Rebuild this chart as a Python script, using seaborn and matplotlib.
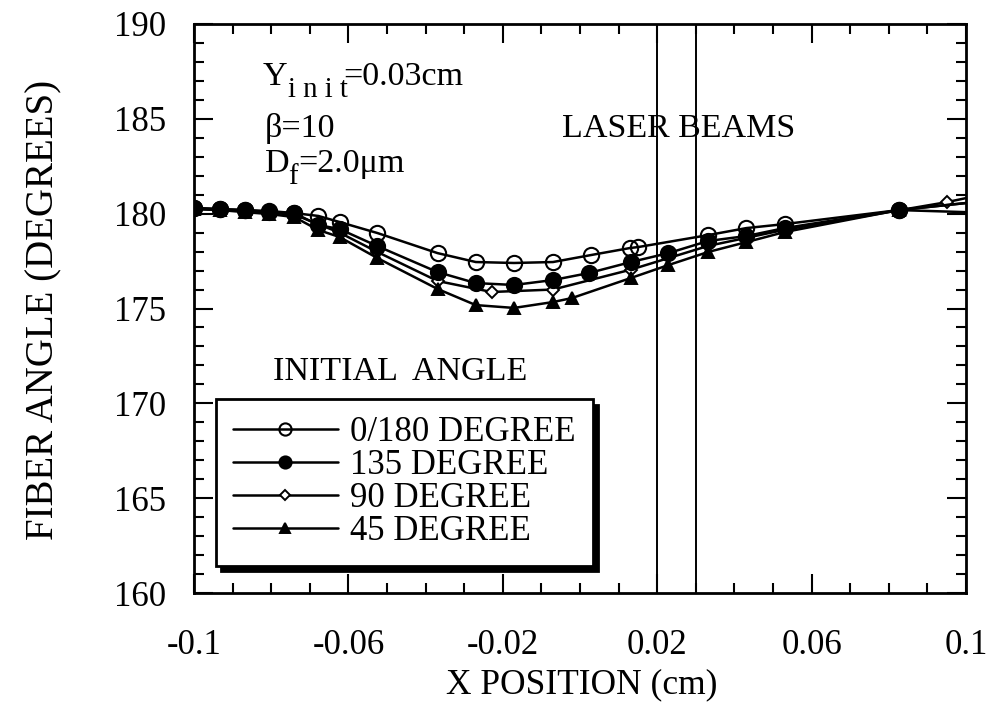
import numpy as np
import pandas as pd
import matplotlib
matplotlib.use("Agg")
import matplotlib.pyplot as plt
from matplotlib.ticker import MultipleLocator, FixedLocator, FixedFormatter
import seaborn as sns

# ---------------- data ----------------
x_0_180 = [-0.1, -0.0932, -0.0868, -0.0805, -0.074, -0.0678, -0.0623, -0.0525, -0.0369, -0.027,
           -0.0171, -0.007, 0.0029, 0.013, 0.0151, 0.0332, 0.0431, 0.053, 0.0826, 0.1]
y_0_180 = [180.30, 180.24, 180.19, 180.14, 180.03, 179.88, 179.56, 178.98, 177.92, 177.45,
           177.40, 177.45, 177.82, 178.19, 178.24, 178.87, 179.24, 179.45, 180.19, 180.08]

x_135 = [-0.1, -0.0932, -0.0868, -0.0805, -0.074, -0.0678, -0.0623, -0.0525, -0.0369, -0.027,
         -0.0171, -0.007, 0.0023, 0.0132, 0.0229, 0.0332, 0.0431, 0.053, 0.0826, 0.1]
y_135 = [180.30, 180.24, 180.19, 180.08, 180.03, 179.40, 179.19, 178.29, 176.92, 176.34,
         176.24, 176.50, 176.87, 177.45, 177.92, 178.56, 178.82, 179.24, 180.19, 180.56]

x_90 = [-0.1, -0.0868, -0.074, -0.0623, -0.0525, -0.0369, -0.0229, -0.007, 0.0132, 0.0332,
        0.053, 0.0951, 0.1]
y_90 = [180.26, 180.14, 179.95, 179.00, 177.98, 176.45, 175.87, 176.00, 177.05, 178.30,
        179.15, 180.61, 180.82]

x_45 = [-0.1, -0.0932, -0.0868, -0.0805, -0.074, -0.0678, -0.0623, -0.0525, -0.0369, -0.027,
        -0.0171, -0.007, -0.0021, 0.0132, 0.0229, 0.0332, 0.0431, 0.053, 0.0826, 0.1]
y_45 = [180.24, 180.19, 180.08, 179.98, 179.82, 179.14, 178.77, 177.66, 176.03, 175.18,
        175.03, 175.34, 175.55, 176.61, 177.29, 177.98, 178.50, 179.03, 180.19, 180.56]

series_labels = ["0/180 DEGREE", "135 DEGREE", "90 DEGREE", "45 DEGREE"]
laser_beams = [0.02, 0.03]
x_ticks = [-0.1, -0.06, -0.02, 0.02, 0.06, 0.1]
x_ticklabels = ["-0.1", "-0.06", "-0.02", "0.02", "0.06", "0.1"]
y_ticks = [160, 165, 170, 175, 180, 185, 190]

# ---------------- style ----------------
sns.set_theme(style="ticks")
plt.rcParams["font.family"] = ["Liberation Serif", "DejaVu Serif"]
plt.rcParams["text.color"] = "black"
plt.rcParams["axes.labelcolor"] = "black"

W, H = 994, 706
fig = plt.figure(figsize=(W / 100, H / 100), dpi=100)
fig.patch.set_facecolor("white")


def fx(px):
    return px / W


def fy(py):
    return 1 - py / H


ax = fig.add_axes([fx(194), fy(593), (966 - 194) / W, (593 - 24) / H])
ax.set_facecolor("white")

# ---------------- series ----------------
styles = [
    (x_0_180, y_0_180, "o", 11, "none", 1.5),
    (x_90, y_90, "D", 6, "white", 1.4),
    (x_135, y_135, "o", 11, "black", 1.4),
    (x_45, y_45, "^", 9, "black", 1.4),
]
labels_in_draw = [series_labels[0], series_labels[2], series_labels[1], series_labels[3]]
for (xs, ys, mk, ms, mfc, mew), lab in zip(styles, labels_in_draw):
    df = pd.DataFrame({"x": xs, "y": ys})
    sns.lineplot(data=df, x="x", y="y", ax=ax, color="black", lw=1.8,
                 marker=mk, markersize=ms, markerfacecolor=mfc, markeredgecolor="black",
                 markeredgewidth=mew, markevery=list(range(len(xs) - 1)),
                 estimator=None, sort=False, label=lab, legend=False)

for xb in laser_beams:
    ax.axvline(xb, color="black", lw=1.4)

# ---------------- axes ----------------
ax.set_xlim(-0.1, 0.1)
ax.set_ylim(160, 190)
ax.xaxis.set_major_locator(FixedLocator(x_ticks))
ax.xaxis.set_major_formatter(FixedFormatter(x_ticklabels))
ax.xaxis.set_minor_locator(MultipleLocator(0.01))
ax.yaxis.set_major_locator(FixedLocator(y_ticks))
ax.yaxis.set_minor_locator(MultipleLocator(1))
ax.tick_params(which="both", direction="in", top=True, right=True, colors="black", width=1.5)
ax.tick_params(which="major", length=14, labelsize=25)
ax.tick_params(which="minor", length=7.5)
ax.tick_params(axis="x", which="major", pad=26)
ax.tick_params(axis="y", which="major", pad=20)
for s in ax.spines.values():
    s.set_linewidth(2)
    s.set_color("black")

ax.set_xlabel("X POSITION (cm)", fontsize=25.5, color="black")
ax.xaxis.set_label_coords((582 - 194) / 772, (593 - 668) / 569)
ax.set_ylabel("FIBER ANGLE (DEGREES)", fontsize=28, color="black")
ax.yaxis.set_label_coords((62 - 194) / 772, 0.497)

# ---------------- annotations ----------------
fs = 24.5
fig.text(fx(263), fy(85), "Y", fontsize=fs, va="baseline", ha="left")
fig.text(fx(288), fy(97), "i n i t", fontsize=fs * 0.85, va="baseline", ha="left")
fig.text(fx(343), fy(85), "=0.03cm", fontsize=fs, va="baseline", ha="left")
fig.text(fx(265), fy(137), "\u03b2=10", fontsize=fs, va="baseline", ha="left")
fig.text(fx(265), fy(172), "D", fontsize=fs, va="baseline", ha="left")
fig.text(fx(288), fy(184), "f", fontsize=fs * 0.85, va="baseline", ha="left")
fig.text(fx(298), fy(172), "=2.0\u03bcm", fontsize=fs, va="baseline", ha="left")
fig.text(fx(562), fy(137), "LASER BEAMS", fontsize=fs, va="baseline", ha="left")
fig.text(fx(273), fy(380), "INITIAL  ANGLE", fontsize=fs, va="baseline", ha="left")

# ---------------- legend ----------------
handles, labels = ax.get_legend_handles_labels()
order = [labels.index(l) for l in series_labels]
leg = ax.legend([handles[i] for i in order], [labels[i] for i in order],
                loc="upper left", bbox_to_anchor=(fx(216), fy(399)),
                bbox_transform=fig.transFigure, fontsize=25, frameon=True,
                fancybox=False, edgecolor="black", framealpha=1,
                borderaxespad=0, borderpad=0.5, labelspacing=0.0,
                handlelength=3.0, handletextpad=0.35, markerscale=0.8,
                shadow={"ox": 3.5, "oy": -4, "color": "black", "alpha": 1})
leg.get_frame().set_linewidth(2)

fig.savefig("out.png", dpi=100, facecolor="white")
